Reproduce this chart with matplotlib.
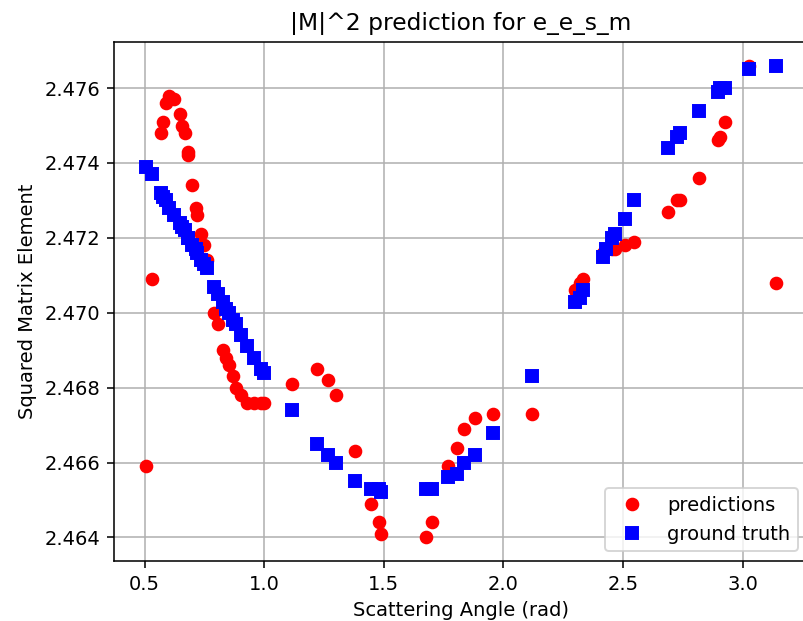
import matplotlib
matplotlib.use("Agg")
import matplotlib.pyplot as plt

# scattering angles (rad) shared by both series
angles = [
    0.504, 0.529, 0.570, 0.576, 0.590, 0.604, 0.625, 0.646, 0.657, 0.667,
    0.680, 0.683, 0.699, 0.715, 0.718, 0.736, 0.750, 0.762, 0.792, 0.805,
    0.826, 0.840, 0.851, 0.868, 0.882, 0.903, 0.930, 0.958, 0.986, 1.000,
    1.115, 1.219, 1.266, 1.302, 1.381, 1.448, 1.478, 1.488, 1.675, 1.700,
    1.770, 1.804, 1.836, 1.881, 1.957, 2.121, 2.300, 2.318, 2.332, 2.415,
    2.429, 2.453, 2.466, 2.508, 2.544, 2.689, 2.725, 2.739, 2.818, 2.898,
    2.903, 2.924, 3.028, 3.141,
]

predictions = [
    2.4659, 2.4709, 2.4748, 2.4751, 2.4756, 2.4758, 2.4757, 2.4753, 2.4750, 2.4748,
    2.4743, 2.4742, 2.4734, 2.4728, 2.4726, 2.4721, 2.4718, 2.4714, 2.4700, 2.4697,
    2.4690, 2.4688, 2.4686, 2.4683, 2.4680, 2.4678, 2.4676, 2.4676, 2.4676, 2.4676,
    2.4681, 2.4685, 2.4682, 2.4678, 2.4663, 2.4649, 2.4644, 2.4641, 2.4640, 2.4644,
    2.4659, 2.4664, 2.4669, 2.4672, 2.4673, 2.4673, 2.4706, 2.4708, 2.4709, 2.4716,
    2.4717, 2.4717, 2.4717, 2.4718, 2.4719, 2.4727, 2.4730, 2.4730, 2.4736, 2.4746,
    2.4747, 2.4751, 2.4766, 2.4708,
]

ground_truth = [
    2.4739, 2.4737, 2.4732, 2.4731, 2.4730, 2.4728, 2.4726, 2.4724, 2.4723, 2.4722,
    2.4720, 2.4720, 2.4718, 2.4717, 2.4716, 2.4714, 2.4713, 2.4712, 2.4707, 2.4705,
    2.4703, 2.4701, 2.4700, 2.4698, 2.4697, 2.4694, 2.4691, 2.4688, 2.4685, 2.4684,
    2.4674, 2.4665, 2.4662, 2.4660, 2.4655, 2.4653, 2.4653, 2.4652, 2.4653, 2.4653,
    2.4656, 2.4657, 2.4660, 2.4662, 2.4668, 2.4683, 2.4703, 2.4704, 2.4706, 2.4715,
    2.4717, 2.4720, 2.4721, 2.4725, 2.4730, 2.4744, 2.4747, 2.4748, 2.4754, 2.4759,
    2.4760, 2.4760, 2.4765, 2.4766,
]

fig = plt.figure(figsize=(803 / 140, 621 / 140), dpi=140)
ax = fig.add_axes([114 / 803, 60 / 621, 694 / 803, 519 / 621])

ax.plot(angles, predictions, 'ro', label='predictions')
ax.plot(angles, ground_truth, 'bs', label='ground truth')

ax.set_title('|M|^2 prediction for e_e_s_m')
ax.set_xlabel('Scattering Angle (rad)')
ax.set_ylabel('Squared Matrix Element')
ax.grid(True)
ax.legend(loc='lower right')

fig.savefig('out.png', dpi=140)
